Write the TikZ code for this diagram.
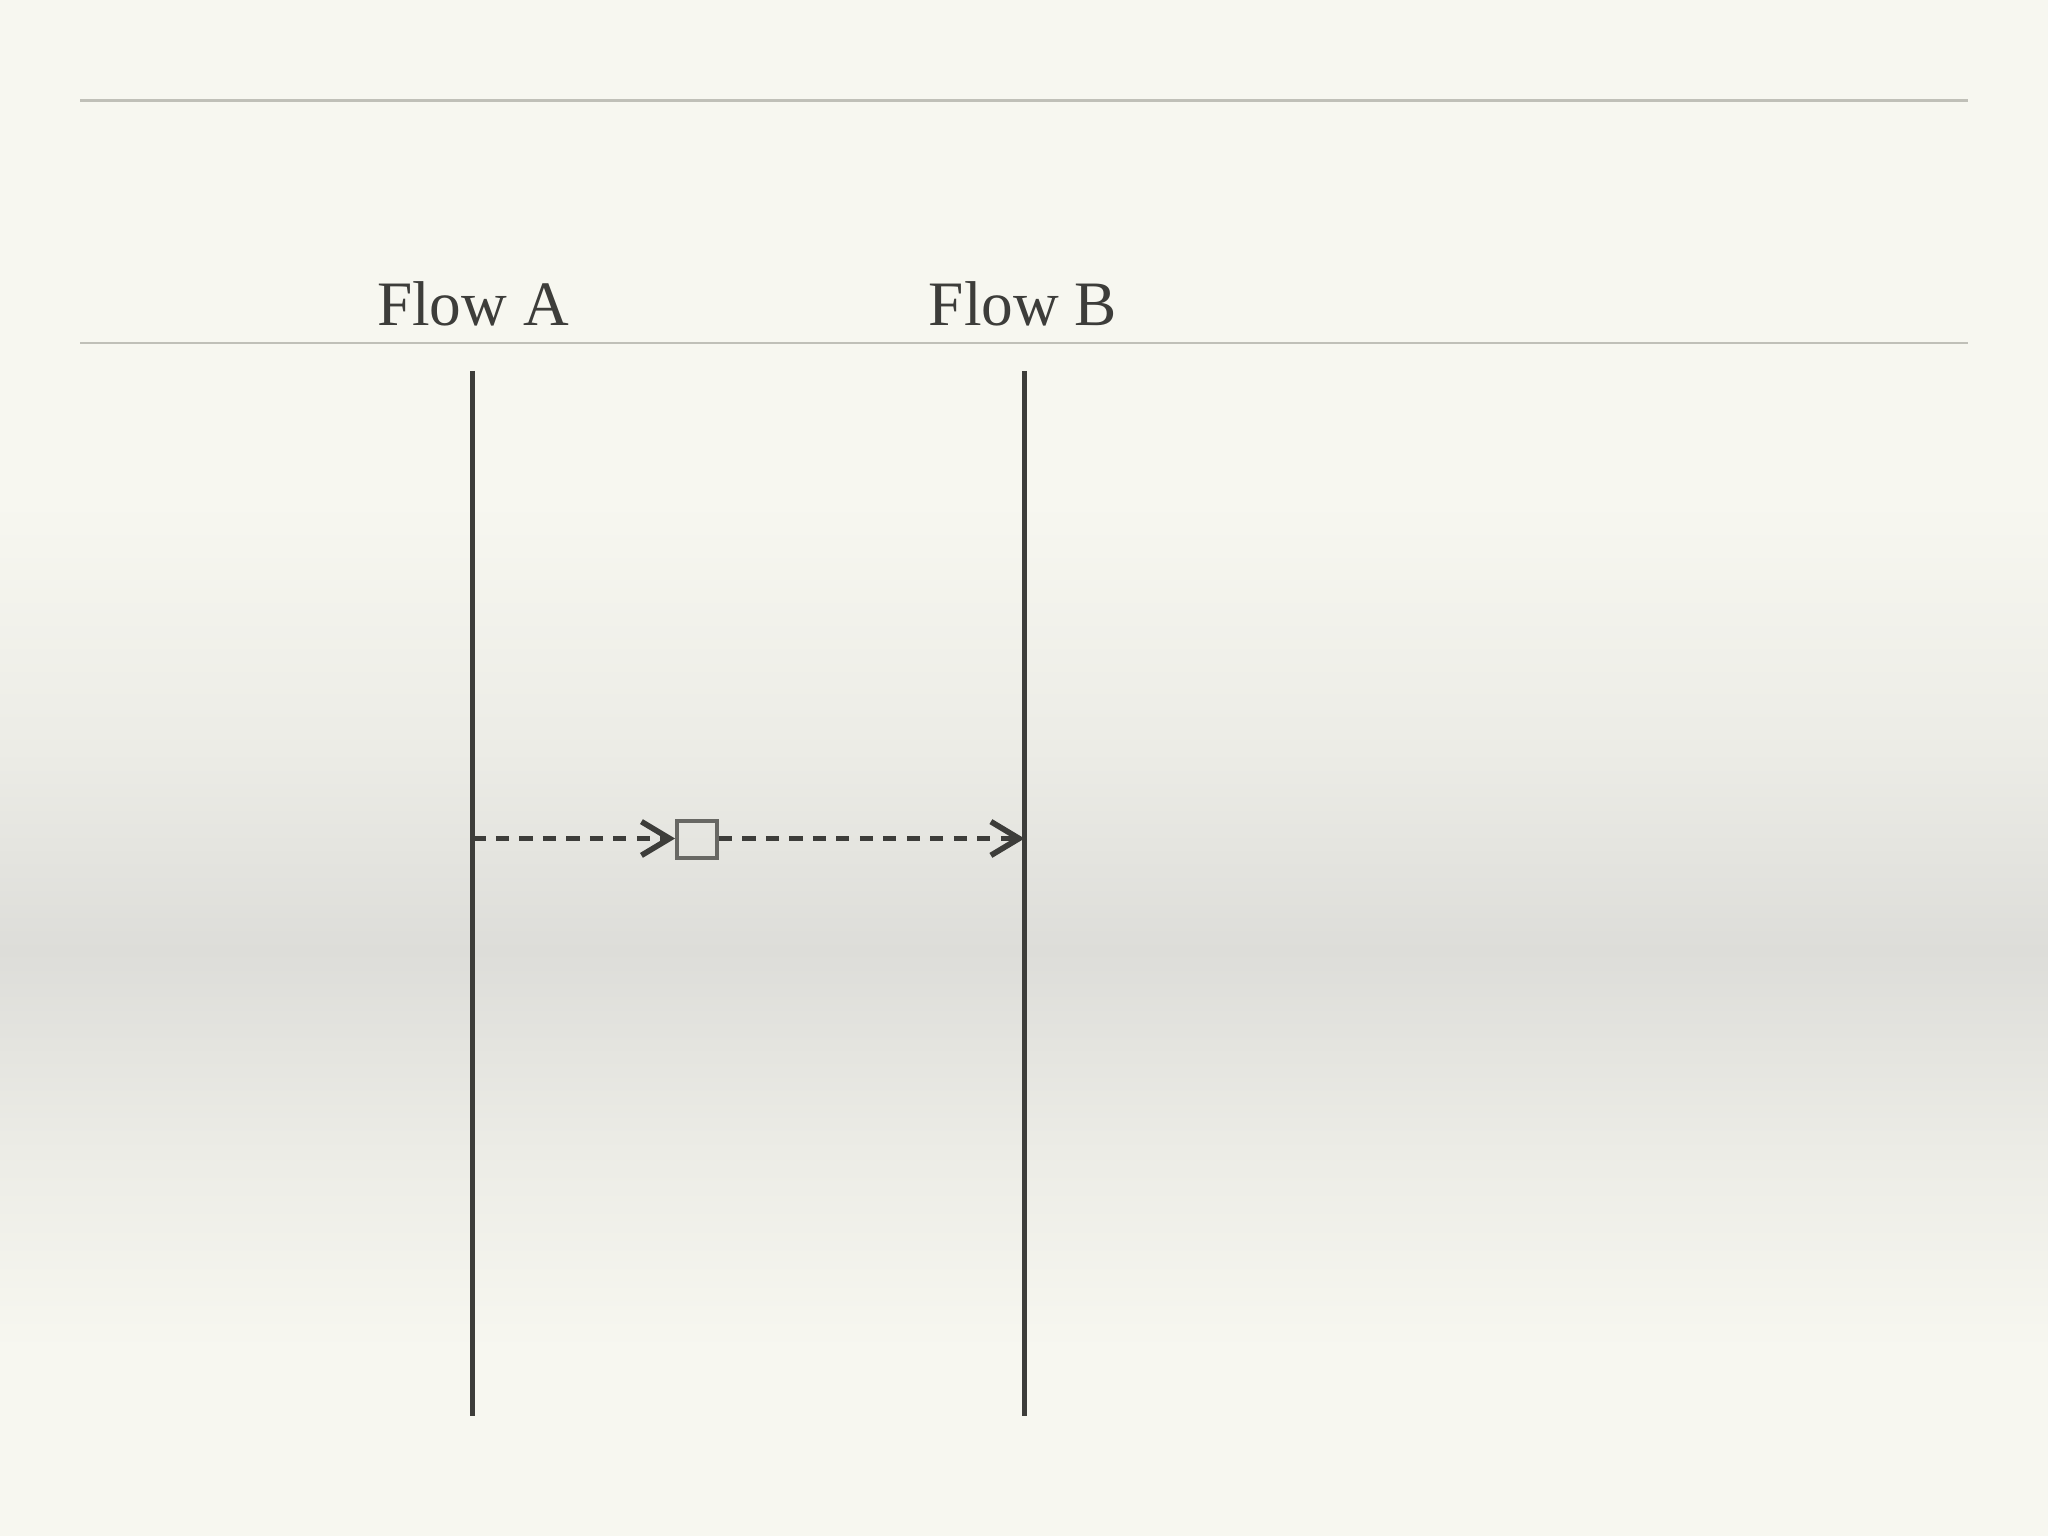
\documentclass[tikz,border=0pt]{standalone}
\usepackage{fontspec}
\setmainfont{Liberation Serif}
\usetikzlibrary{arrows.meta}
\definecolor{bgA}{RGB}{247,247,240}
\definecolor{bgB}{RGB}{236,236,230}
\definecolor{bgC}{RGB}{221,221,217}
\definecolor{ink}{RGB}{61,61,58}
\definecolor{rule}{RGB}{192,192,184}
\definecolor{boxgray}{RGB}{104,104,100}
\tikzset{
  rulebar/.style={draw=rule, line width=1.5pt},
  lifeline/.style={draw=ink, line width=3.4pt},
  msgline/.style={draw=ink, line width=4.2pt, dash pattern=on 9.3pt off 7.4pt,
    -{Straight Barb[length=20pt, width=24pt, line width=4pt]}},
  msgbox/.style={draw=boxgray, line width=2.8pt, minimum width=1cm, minimum height=0.92cm, inner sep=0pt},
  flowlabel/.style={text=ink, font=\fontsize{45}{52}\selectfont, anchor=base, inner sep=0pt}
}
\begin{document}
\begin{tikzpicture}[x=0.025cm, y=-0.025cm]
\useasboundingbox (0,0) rectangle (2048,1536);
% background
\fill[bgA] (0,0) rectangle (2048,501);
\shade[top color=bgA, bottom color=bgB] (0,500) rectangle (2048,751);
\shade[top color=bgB, bottom color=bgC] (0,750) rectangle (2048,951);
\shade[top color=bgC, bottom color=bgB] (0,950) rectangle (2048,1151);
\shade[top color=bgB, bottom color=bgA] (0,1150) rectangle (2048,1351);
\fill[bgA] (0,1350) rectangle (2048,1536);
% rules
\coordinate (r1l) at (80,100.5);
\coordinate (r1r) at (1968,100.5);
\coordinate (r2l) at (80,343);
\coordinate (r2r) at (1968,343);
\draw[rulebar] (r1l) -- (r1r);
\draw[rulebar] (r2l) -- (r2r);
% labels
\node[flowlabel] (la) at (473,326) {Flow A};
\node[flowlabel] (lb) at (1023,326) {Flow B};
% lifelines
\coordinate (Atop) at (472.5,371);
\coordinate (Abot) at (472.5,1416);
\coordinate (Btop) at (1024.5,371);
\coordinate (Bbot) at (1024.5,1416);
\draw[lifeline] (Atop) -- (Abot);
\draw[lifeline] (Btop) -- (Bbot);
% message
\coordinate (Amid) at (472.5,838.5);
\coordinate (Bmid) at (1024.5,838.5);
\node[msgbox] (box) at (697,839.5) {};
\draw[msgline] (Amid) -- (box.west |- Amid);
\draw[msgline] (box.east |- Amid) -- (Bmid);
\end{tikzpicture}
\end{document}
